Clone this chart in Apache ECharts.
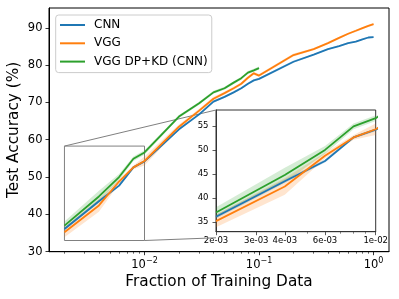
<!DOCTYPE html>
<html><head><meta charset="utf-8">
<script src="https://cdn.jsdelivr.net/npm/echarts@6/dist/echarts.min.js"></script>
<style>html,body{margin:0;padding:0;background:#fff}#c{width:399px;height:299px}</style>
</head><body><div id="c"></div>
<script>
// ---- data ----
const fractions = [0.002,0.004,0.006,0.008,0.01,0.02,0.03,0.04,0.05,0.06,0.07,0.08,0.09,0.1,0.2,0.3,0.4,0.5,0.6,0.7,0.8,0.9,1.0];
const cnn    = [36.1,43.5,47.7,52.6,54.2,62.8,66.8,70.2,71.5,72.7,73.8,75.0,75.9,76.3,80.9,82.8,84.3,85.1,85.9,86.3,86.9,87.4,87.5];
const cnnStd = [0.4,0.4,0.3,0.3,0.3,0.3,0.3,0.3,0.3,0.3,0.3,0.3,0.3,0.3,0.3,0.2,0.2,0.2,0.2,0.2,0.2,0.2,0.2];
const vgg    = [35.2,42.4,48.8,52.6,54.3,63.5,67.8,71.0,72.5,73.8,75.0,76.6,77.8,77.2,82.7,84.3,85.9,87.3,88.4,89.2,89.9,90.5,91.0];
const vggStd = [1.3,1.7,0.6,0.5,1.2,0.6,0.5,0.5,0.4,0.4,0.4,0.4,0.4,0.4,0.4,0.3,0.3,0.3,0.3,0.3,0.3,0.3,0.3];
const kd     = [37.0,44.8,50.0,54.9,56.6,66.2,69.8,72.7,73.8,75.3,76.5,78.0,78.6,79.2,null,null,null,null,null,null,null,null,null];
const kdStd  = [1.1,1.5,0.8,0.6,0.6,0.4,0.4,0.4,0.4,0.4,0.4,0.4,0.4,0.4,null,null,null,null,null,null,null,null,null];
const seriesNames = ['CNN','VGG','VGG DP+KD (CNN)'];
const mainXTicks = [0.01,0.1,1];
const mainXMinor = [0.002,0.003,0.004,0.005,0.006,0.007,0.008,0.009,0.02,0.03,0.04,0.05,0.06,0.07,0.08,0.09,0.2,0.3,0.4,0.5,0.6,0.7,0.8,0.9];
const mainYTicks = [30,40,50,60,70,80,90];
const mainXRange = [0.001466,1.364];
const mainYRange = [30,95.3];
const insetXTicks = [0.002,0.003,0.004,0.006,0.01];
const insetXTickLabels = ['2e-03','3e-03','4e-03','6e-03','1e-02'];
const insetXMinor = [0.005,0.007,0.008,0.009];
const insetYTicks = [35,40,45,50,55];
const insetXRange = [0.002,0.01];
const insetYRange = [33,58.3];

// ---- style ----
const colors = ['#1f77b4','#ff7f0e','#2ca02c'];
const bands = ['rgba(31,119,180,0.2)','rgba(255,127,14,0.2)','rgba(44,160,44,0.2)'];
const FONT = 'DejaVu Sans';

const chart = echarts.init(document.getElementById('c'), null, {renderer:'canvas'});

function pairs(m){ const out=[]; fractions.forEach((f,i)=>{ if(m[i]!=null) out.push([f, m[i]]); }); return out; }

function buildSeries(xIdx, yIdx){
  const list = [];
  const sets = [[cnn,cnnStd],[vgg,vggStd],[kd,kdStd]];
  sets.forEach(([m,s],k)=>{
    list.push({type:'custom', xAxisIndex:xIdx, yAxisIndex:yIdx, silent:true, z:2,
      data:[[fractions[0], m[0]]],
      encode:{x:0, y:1},
      renderItem:function(params, api){
        const up=[], lo=[];
        fractions.forEach((f,i)=>{
          if(m[i]==null) return;
          up.push(api.coord([f, m[i]+s[i]]));
          lo.push(api.coord([f, m[i]-s[i]]));
        });
        const pts = up.concat(lo.reverse());
        const cs = params.coordSys;
        return {type:'polygon', shape:{points:pts}, style:{fill:bands[k], stroke:null},
          clipPath:{type:'rect', shape:{x:cs.x, y:cs.y, width:cs.width, height:cs.height}}};
      }});
  });
  sets.forEach(([m,s],k)=>{
    list.push({type:'line', name:seriesNames[k], xAxisIndex:xIdx, yAxisIndex:yIdx, data:pairs(m),
      symbol:'none', showSymbol:false, lineStyle:{color:colors[k], width:1.8}, itemStyle:{color:colors[k]}, z:3+k, clip:true});
  });
  return list;
}

const series = [].concat(buildSeries(0,0), buildSeries(2,1));
// inset indicator rectangle in main axes
series.push({type:'line', name:'indicator', xAxisIndex:0, yAxisIndex:0, symbol:'none', silent:true, z:1,
  lineStyle:{color:'#808080', width:1},
  data:[[insetXRange[0],insetYRange[0]],[insetXRange[1],insetYRange[0]],[insetXRange[1],insetYRange[1]],[insetXRange[0],insetYRange[1]],[insetXRange[0],insetYRange[0]]]});

function supLabel(v){
  const e = Math.round(Math.log10(v));
  return '{a|10}{b|' + (e<0 ? '\u2212'+(-e) : String(e)) + '}';
}

const option = {
  animation:false,
  backgroundColor:'#fff',
  textStyle:{fontFamily:FONT},
  grid:[
    {left:49, top:8, width:340, height:243.7, show:true, borderColor:'#000', borderWidth:1, backgroundColor:'transparent', outerBoundsMode:'none', containLabel:false},
    {left:216, top:110, width:159.7, height:121.7, show:true, borderColor:'#333', borderWidth:1, backgroundColor:'#fff', outerBoundsMode:'none', containLabel:false}
  ],
  xAxis:[
    {type:'log', gridIndex:0, min:mainXRange[0], max:mainXRange[1], position:'bottom',
      name:'Fraction of Training Data', nameLocation:'middle', nameGap:22.5, nameMoveOverlap:false,
      nameTextStyle:{fontSize:15.3, color:'#000', fontFamily:FONT},
      axisLine:{show:true, lineStyle:{color:'#000', width:1}},
      axisTick:{show:true, length:3.5, inside:false, customValues:mainXTicks, lineStyle:{color:'#000', width:0.8}},
      axisLabel:{show:true, customValues:mainXTicks, margin:5.5, formatter:supLabel, color:'#000',
        rich:{a:{fontSize:11.5, fontFamily:FONT, color:'#000'}, b:{fontSize:8, fontFamily:FONT, color:'#000', padding:[0,0,7,0]}}},
      splitLine:{show:false}},
    {type:'log', gridIndex:0, min:mainXRange[0], max:mainXRange[1], position:'bottom',
      axisLine:{show:false}, axisLabel:{show:false}, splitLine:{show:false},
      axisTick:{show:true, length:2, customValues:mainXMinor, lineStyle:{color:'#000', width:0.6}}},
    {type:'log', gridIndex:1, min:insetXRange[0], max:insetXRange[1], position:'bottom',
      axisLine:{show:true, lineStyle:{color:'#333', width:1}},
      axisTick:{show:true, length:3.5, customValues:insetXTicks, lineStyle:{color:'#333', width:0.8}},
      axisLabel:{show:true, customValues:insetXTicks, margin:4.5, fontSize:8.5, color:'#000', fontFamily:FONT,
        formatter:function(v){ const i = insetXTicks.findIndex(t=>Math.abs(t-v)<1e-9); return i>=0 ? insetXTickLabels[i] : ''; }},
      splitLine:{show:false}},
    {type:'log', gridIndex:1, min:insetXRange[0], max:insetXRange[1], position:'bottom',
      axisLine:{show:false}, axisLabel:{show:false}, splitLine:{show:false},
      axisTick:{show:true, length:2, customValues:insetXMinor, lineStyle:{color:'#333', width:0.6}}}
  ],
  yAxis:[
    {type:'value', gridIndex:0, min:mainYRange[0], max:mainYRange[1],
      name:'Test Accuracy (%)', nameLocation:'middle', nameGap:27, nameMoveOverlap:false,
      nameTextStyle:{fontSize:15.3, color:'#000', fontFamily:FONT},
      axisLine:{show:true, lineStyle:{color:'#000', width:1}},
      axisTick:{show:true, length:3.5, customValues:mainYTicks, lineStyle:{color:'#000', width:0.8}},
      axisLabel:{show:true, customValues:mainYTicks, margin:6.5, fontSize:11.5, color:'#000', fontFamily:FONT},
      splitLine:{show:false}},
    {type:'value', gridIndex:1, min:insetYRange[0], max:insetYRange[1],
      axisLine:{show:true, lineStyle:{color:'#333', width:1}},
      axisTick:{show:true, length:3.5, customValues:insetYTicks, lineStyle:{color:'#333', width:0.8}},
      axisLabel:{show:true, customValues:insetYTicks, margin:7.5, fontSize:8.5, color:'#000', fontFamily:FONT},
      splitLine:{show:false}}
  ],
  legend:{data:seriesNames, orient:'vertical', left:55.7, top:15, itemWidth:25, itemHeight:2, icon:'rect',
    itemGap:0.3, padding:[1,4,2,4.3], backgroundColor:'rgba(255,255,255,0.8)', borderColor:'#cccccc',
    borderWidth:1, borderRadius:3, selectedMode:false,
    textStyle:{fontSize:12, color:'#000', fontFamily:FONT, lineHeight:18, padding:[0,0,0,4]}},
  series:series
};
chart.setOption(option);

// connector lines between indicator rectangle and inset (mark_inset style)
const pTL = chart.convertToPixel({xAxisIndex:0, yAxisIndex:0}, [insetXRange[0], insetYRange[1]]);
const qTL = chart.convertToPixel({xAxisIndex:2, yAxisIndex:1}, [insetXRange[0], insetYRange[1]]);
const pBR = chart.convertToPixel({xAxisIndex:0, yAxisIndex:0}, [insetXRange[1], insetYRange[0]]);
const qBR = chart.convertToPixel({xAxisIndex:2, yAxisIndex:1}, [insetXRange[1], insetYRange[0]]);
const qBL = chart.convertToPixel({xAxisIndex:2, yAxisIndex:1}, [insetXRange[0], insetYRange[0]]);
const t = (qBL[0]-pBR[0])/(qBR[0]-pBR[0]);
const cut = [qBL[0], pBR[1] + t*(qBR[1]-pBR[1])];
chart.setOption({graphic:[
  {type:'line', shape:{x1:pTL[0], y1:pTL[1], x2:qTL[0], y2:qTL[1]}, style:{stroke:'#808080', lineWidth:1}, silent:true, z:1},
  {type:'line', shape:{x1:pBR[0], y1:pBR[1], x2:cut[0], y2:cut[1]}, style:{stroke:'#808080', lineWidth:1}, silent:true, z:1}
]});
</script></body></html>
